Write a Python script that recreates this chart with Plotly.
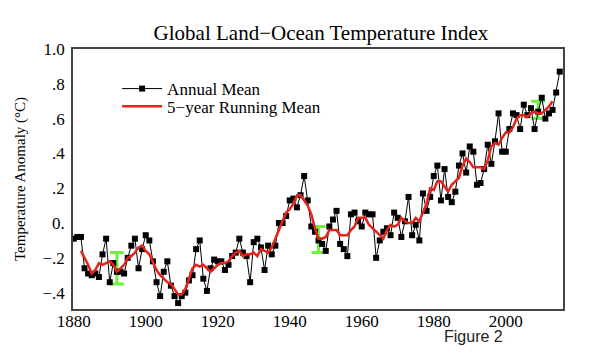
import plotly.graph_objects as go

# ---- data ----
years = list(range(1880, 2016))
annual_mean = [
    -0.09, -0.08, -0.08, -0.26, -0.29, -0.30, -0.29, -0.31, -0.18, -0.09,   # 1880s
    -0.34, -0.23, -0.28, -0.28, -0.29, -0.20, -0.13, -0.09, -0.26, -0.15,   # 1890s
    -0.07, -0.10, -0.22, -0.34, -0.42, -0.28, -0.22, -0.36, -0.42, -0.46,   # 1900s
    -0.42, -0.40, -0.33, -0.30, -0.15, -0.10, -0.32, -0.39, -0.26, -0.21,   # 1910s
    -0.22, -0.22, -0.27, -0.24, -0.19, -0.17, -0.09, -0.17, -0.19, -0.34,   # 1920s
    -0.11, -0.09, -0.14, -0.27, -0.13, -0.18, -0.13, 0.00, 0.00, 0.04,      # 1930s
    0.13, 0.14, 0.09, 0.16, 0.27, 0.13, -0.02, -0.05, -0.10, -0.12,         # 1940s
    -0.16, -0.02, 0.02, 0.07, -0.12, -0.15, -0.19, 0.05, 0.06, 0.01,        # 1950s
    -0.02, 0.06, 0.05, 0.05, -0.20, -0.10, -0.05, -0.03, -0.07, 0.06,       # 1960s
    0.03, -0.08, 0.01, 0.15, -0.07, -0.01, -0.10, 0.17, 0.07, 0.15,         # 1970s
    0.27, 0.33, 0.13, 0.31, 0.15, 0.12, 0.18, 0.33, 0.40, 0.29,             # 1980s
    0.44, 0.41, 0.22, 0.23, 0.31, 0.45, 0.34, 0.47, 0.63, 0.41,             # 1990s
    0.41, 0.54, 0.63, 0.62, 0.54, 0.68, 0.62, 0.66, 0.54, 0.64,             # 2000s
    0.72, 0.60, 0.63, 0.65, 0.75, 0.87,                                     # 2010s
]

run_years = list(range(1882, 2014))
running_mean = [
    -0.16, -0.20, -0.24, -0.29, -0.27, -0.23, -0.24, -0.23,                 # 1882-1889
    -0.22, -0.24, -0.28, -0.26, -0.24, -0.20, -0.19, -0.17, -0.14, -0.13,   # 1890s
    -0.16, -0.18, -0.23, -0.27, -0.30, -0.32, -0.34, -0.35, -0.38, -0.41,   # 1900s
    -0.41, -0.38, -0.32, -0.26, -0.24, -0.25, -0.24, -0.26, -0.28, -0.26,   # 1910s
    -0.24, -0.23, -0.23, -0.22, -0.19, -0.17, -0.16, -0.19, -0.18, -0.18,   # 1920s
    -0.17, -0.19, -0.15, -0.16, -0.17, -0.14, -0.09, -0.05, 0.01, 0.06,     # 1930s
    0.08, 0.11, 0.16, 0.16, 0.13, 0.10, 0.05, -0.03, -0.09, -0.09,          # 1940s
    -0.08, -0.04, -0.04, -0.04, -0.07, -0.07, -0.07, -0.04, -0.02, 0.03,    # 1950s
    0.03, 0.03, -0.01, -0.03, -0.05, -0.07, -0.09, -0.04, -0.01, -0.02,     # 1960s
    -0.01, 0.03, 0.01, 0.00, 0.00, 0.03, 0.01, 0.06, 0.11, 0.20,            # 1970s
    0.19, 0.24, 0.24, 0.21, 0.18, 0.22, 0.24, 0.26, 0.33, 0.37,             # 1980s
    0.35, 0.32, 0.32, 0.32, 0.31, 0.36, 0.44, 0.46, 0.45, 0.49,             # 1990s
    0.52, 0.52, 0.55, 0.60, 0.62, 0.62, 0.61, 0.63, 0.64, 0.63,             # 2000s
    0.63, 0.65, 0.67, 0.70,                                                 # 2010-2013
]

err_years = [1892, 1948, 2009]
err_center = [-0.26, -0.095, 0.65]
err_half = [0.09, 0.075, 0.05]

x_tickvals = [1880, 1900, 1920, 1940, 1960, 1980, 2000]
x_ticktext = ["1880", "1900", "1920", "1940", "1960", "1980", "2000"]
y_tickvals = [-0.4, -0.2, 0.0, 0.2, 0.4, 0.6, 0.8, 1.0]
y_ticktext = ["\u2212.4", "\u2212.2", "0.", ".2", ".4", ".6", ".8", "1.0"]

SERIF = "Liberation Serif, Times New Roman, serif"

fig = go.Figure()

# green uncertainty bars
fig.add_trace(go.Scatter(
    x=err_years, y=err_center, mode="markers",
    marker=dict(size=1, opacity=0),
    error_y=dict(type="data", array=err_half, visible=True,
                 color="#6ef03c", thickness=3, width=7),
    showlegend=False, hoverinfo="skip",
))

fig.add_trace(go.Scatter(
    x=years, y=annual_mean, mode="lines+markers", name="Annual Mean",
    line=dict(color="black", width=1),
    marker=dict(symbol="square", size=6, color="black"),
    legend="legend",
))

fig.add_trace(go.Scatter(
    x=run_years, y=running_mean, mode="lines", name="5\u2212year Running Mean",
    line=dict(color="#e3241b", width=2.5),
    legend="legend2",
))

legend_common = dict(
    xanchor="left", yanchor="middle", bgcolor="rgba(0,0,0,0)",
    font=dict(family=SERIF, size=17, color="black"),
    borderwidth=0, itemwidth=40,
)

fig.update_layout(
    width=600, height=353,
    margin=dict(l=73, r=37, t=49, b=44),
    paper_bgcolor="white", plot_bgcolor="white",
    title=dict(text="Global Land\u2212Ocean Temperature Index",
               x=0.535, xanchor="center", y=1 - 33 / 353, yanchor="middle",
               font=dict(family=SERIF, size=21, color="black")),
    xaxis=dict(range=[1879.8, 2015.9], tickvals=x_tickvals, ticktext=x_ticktext,
               showgrid=False, zeroline=False, showline=True, linecolor="#444444",
               linewidth=2, mirror=True, ticks="", ticklabelstandoff=-4,
               tickfont=dict(family=SERIF, size=17, color="black")),
    yaxis=dict(range=[-0.494, 1.0], tickvals=y_tickvals, ticktext=y_ticktext,
               showgrid=False, zeroline=False, showline=True, linecolor="#444444",
               linewidth=1.5, mirror=True, ticks="", ticklabelstandoff=3,
               tickfont=dict(family=SERIF, size=17, color="black")),
    legend=dict(x=0.09, y=0.846, **legend_common),
    legend2=dict(x=0.09, y=0.778, **legend_common),
    annotations=[
        dict(text="Temperature Anomaly (\u00b0C)", textangle=-90,
             xref="paper", yref="paper", x=(20 - 73) / 490, y=0.5,
             xanchor="center", yanchor="middle", showarrow=False,
             font=dict(family=SERIF, size=15, color="black")),
        dict(text="Figure 2", xref="paper", yref="paper",
             x=(473 - 73) / 490, y=(309.3 - 337) / 260.3,
             xanchor="center", yanchor="middle", showarrow=False,
             font=dict(family="Liberation Sans, Arial, sans-serif", size=16,
                       color="#222222")),
    ],
)

fig.write_html("out.html")
